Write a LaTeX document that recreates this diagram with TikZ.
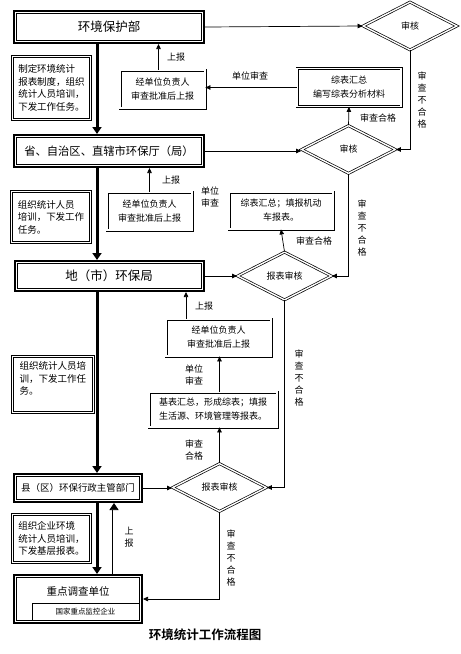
\documentclass[tikz,border=0pt]{standalone}
\usepackage{fontspec}
\setmainfont{Noto Sans CJK SC}[BoldFont={Noto Sans CJK SC Bold}]
\usetikzlibrary{shapes.geometric, arrows.meta}
\newcommand{\labelFont}{\fontsize{9pt}{12pt}\selectfont}
\newcommand{\taskFont}{\fontsize{9.5pt}{12.5pt}\selectfont}
\newcommand{\titleFont}{\fontsize{12.5pt}{14pt}\selectfont}
\newcommand{\lineColor}{black}

\begin{document}
\begin{tikzpicture}[
            x=1pt, y=-1pt,
            every node/.append style={inner sep=0pt, font=\labelFont, text=\lineColor},
            office/.style={draw=\lineColor, line width=2pt, font=\titleFont},
            task/.style={draw=\lineColor, double, double distance=1.4pt, line width=0.8pt, align=left, font=\taskFont},
            report/.style={draw=\lineColor, double, double distance=1.4pt, line width=0.8pt, align=center, font=\fontsize{9pt}{14pt}\selectfont},
            check/.style={diamond, draw=\lineColor, double, double distance=1.4pt, line width=0.7pt, minimum width=94pt, minimum height=48pt},
            note/.style={align=center},
            arr/.style={draw=\lineColor, line width=0.7pt, -{Triangle[length=5pt, width=4.5pt]}},
            flow/.style={draw=\lineColor, line width=3pt, -{Triangle[length=7pt, width=9pt]}},
            upflow/.style={draw=\lineColor, double, double distance=3pt, line width=0.7pt, -{Triangle[length=7pt, width=9pt]}}
        ]
        \useasboundingbox (0,0) rectangle (461,654);

        \node[office, minimum width=190pt, minimum height=32pt] (dept) at (109,27) {环境保护部};
        \node[office, minimum width=190pt, minimum height=32pt, font=\fontsize{11.3pt}{14pt}\selectfont] (prov) at (109,151) {省、自治区、直辖市环保厅（局）};
        \node[office, minimum width=189pt, minimum height=30pt] (city) at (109,276) {地（市）环保局};
        \node[office, minimum width=128pt, minimum height=28pt, font=\fontsize{9.5pt}{12pt}\selectfont] (county) at (78,488) {县（区）环保行政主管部门};
        \node[office, minimum width=128pt, minimum height=48pt] (unit) at (78,599) {};
        \foreach \n in {dept, prov, city, county, unit}
            \draw[line width=0.8pt] ([xshift=3.5pt, yshift=-3.5pt]\n.north west) rectangle ([xshift=-3.5pt, yshift=3.5pt]\n.south east);
        \node[font=\fontsize{10.5pt}{12pt}\selectfont] (unitname) at (78,591) {重点调查单位};
        \node[draw, line width=0.7pt, minimum width=107pt, minimum height=17pt, font=\fontsize{7.5pt}{9pt}\selectfont] (key) at (85.5,611.5) {国家重点监控企业};

        \node[task, minimum width=78pt, minimum height=63pt] (task1) at (51.5,88) {制定环境统计\\报表制度，组织\\统计人员培训，\\下发工作任务。};
        \node[task, minimum width=79pt, minimum height=51pt] (task2) at (51,217) {组织统计人员\\培训，下发工作\\任务。};
        \node[task, minimum width=81pt, minimum height=56pt] (task3) at (53,384.5) {组织统计人员培\\训，下发工作任\\务。\\ \mbox{}};
        \node[task, minimum width=78pt, minimum height=48pt] (task4) at (51.5,538.5) {组织企业环境\\统计人员培训，\\下发基层报表。};

        \node[report, minimum width=85pt, minimum height=38pt] (rep1) at (162.5,89) {经单位负责人\\审查批准后上报};
        \node[report, minimum width=104pt, minimum height=38pt] (sum1) at (349,87.5) {综表汇总\\编写综表分析材料};
        \node[report, minimum width=85pt, minimum height=38pt] (rep2) at (149.5,211) {经单位负责人\\审查批准后上报};
        \node[report, minimum width=104pt, minimum height=37pt] (sum2) at (281,210.5) {综表汇总；填报机动\\车报表。};
        \node[report, minimum width=105pt, minimum height=37pt] (rep3) at (218.5,337.5) {经单位负责人\\审查批准后上报};
        \node[report, minimum width=128pt, minimum height=35pt] (sum3) at (213,409.5) {基表汇总，形成综表；填报\\生活源、环境管理等报表。};

        \node[check] (chk1) at (410,26) {审核};
        \node[check] (chk2) at (348.5,149.5) {审核};
        \node[check] (chk3) at (284.5,276) {报表审核};
        \node[check] (chk4) at (219.5,487.5) {报表审核};

        \coordinate (spine) at (97,0);
        \draw[flow] (spine |- dept.south) -- (spine |- prov.north);
        \draw[flow] (spine |- prov.south) -- (spine |- city.north);
        \draw[flow] (spine |- city.south) -- (spine |- county.north);
        \draw[flow] (spine |- county.south) -- (spine |- unit.north);
        \coordinate (upline) at (114,0);
        \draw[upflow] (upline |- unit.north) -- (upline |- county.south);

        \draw[arr] (dept.east) -- (chk1.west);
        \draw[arr] (chk1.south) |- (chk2.east);
        \draw[arr] (prov.east) -- (prov.east -| chk2.west);
        \draw[arr] (chk2.north) -- (sum1.south);
        \draw[arr] (sum1.west) -- (sum1.west -| rep1.east);
        \draw[arr] ([xshift=-4pt]rep1.north) -- ([xshift=-4pt]rep1.north |- dept.south);

        \draw[arr] (chk2.south) |- (chk3.east);
        \draw[arr] (city.east) -- (city.east -| chk3.west);
        \draw[arr] (chk3.north) -- (sum2.south);
        \draw[arr] (rep2.north) -- (rep2.north |- prov.south);

        \draw[arr] (chk3.south) |- (chk4.east);
        \draw[arr] (county.east) -- (county.east -| chk4.west);
        \draw[arr] (chk4.north) -- (chk4.north |- sum3.south);
        \draw[arr] (sum3.north -| chk4.north) -- (chk4.north |- rep3.south);
        \draw[arr] ([xshift=-32.5pt]rep3.north) -- ([xshift=-32.5pt]rep3.north |- city.south);
        \draw[arr] (chk4.south) |- (unit.east);

        \node[note] (up1) at (176,57) {上报};
        \node[note] (unitchk1) at (250,76) {单位审查};
        \node[note] (pass1) at (378,118) {审查合格};
        \node[note] (fail1) at (422,100) {审\\查\\不\\合\\格};

        \node[note] (up2) at (171,180) {上报};
        \node[note] (unitchk2) at (210,197) {单位\\审查};
        \node[note] (pass2) at (314,241) {审查合格};
        \node[note] (fail2) at (362,228) {审\\查\\不\\合\\格};

        \node[note] (up3) at (204,306) {上报};
        \node[note] (unitchk3) at (194,375) {单位\\审查};
        \node[note] (pass3) at (194,450) {审查\\合格};
        \node[note] (fail3) at (299,378) {审\\查\\不\\合\\格};

        \node[note] (up4) at (129,537) {上\\报};
        \node[note] (fail4) at (231,558) {审\\查\\不\\合\\格};

        \node[font=\fontsize{12.5pt}{14pt}\selectfont\bfseries] (caption) at (205,635) {环境统计工作流程图};
    \end{tikzpicture}
\end{document}
